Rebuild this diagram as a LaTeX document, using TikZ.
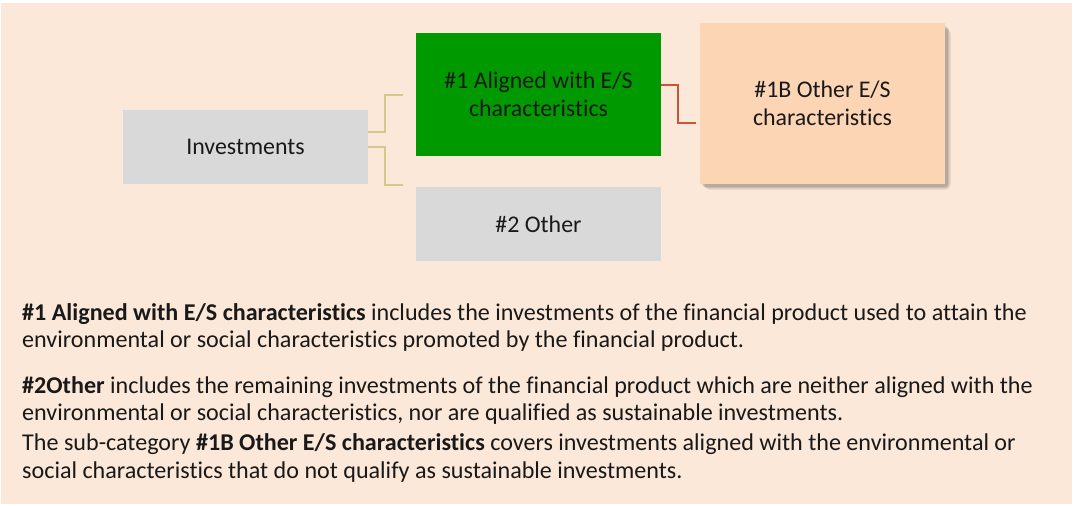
\documentclass[tikz,border=0pt]{standalone}
\usepackage{fontspec}
\setmainfont{Carlito}[Ligatures={NoCommon}]
\usetikzlibrary{calc}
\definecolor{bgc}{HTML}{FBE8D8}
\definecolor{grayc}{HTML}{D9D9D9}
\definecolor{greenc}{HTML}{009A00}
\definecolor{peachc}{HTML}{FCD5B4}
\definecolor{khaki}{HTML}{D5C88A}
\definecolor{redc}{HTML}{C8553A}
\begin{document}
\begin{tikzpicture}[x=1pt,y=-1pt,
  box/.style={minimum width=245pt,inner sep=0pt,align=center,font=\fontsize{23.9}{28}\selectfont,text=black!90},
  link/.style={line width=2pt},
  body/.style={anchor=base west,inner sep=0pt,font=\fontsize{24.1}{29}\selectfont,text=black!90}]
\useasboundingbox[fill=white] (0,0) rectangle (1074,506);
\fill[bgc] (1,3) rectangle (1072,504);
% nodes
\node[box,fill=grayc,minimum height=74pt] (inv) at (245.5,147) {Investments};
\node[box,fill=greenc,minimum height=123pt] (al) at (538.5,94.5) {\#1 Aligned with E/S\\characteristics};
\node[box,fill=grayc,minimum height=74pt] (oth) at (538.5,224) {\#2 Other};
% shadow for 1B
\foreach \d/\o in {6/0.05,5/0.06,4/0.08,3/0.1}{
  \fill[black,opacity=\o,rounded corners=\d pt] (700+\d-1,23+\d) rectangle (945+\d,184+\d);
}
\node[box,fill=peachc,minimum height=161pt] (ob) at (822.5,103.5) {\#1B Other E/S\\characteristics};
% connectors
\coordinate (u) at (403,95);
\coordinate (d) at (403,185);
\coordinate (r) at (696,123);
\draw[link,khaki] ([yshift=15pt]inv.east) -- ++(17,0) |- (u);
\draw[link,khaki] (inv.east) -- ++(17,0) |- (d);
\draw[link,redc] ([yshift=9.5pt]al.east) -- ++(17,0) |- (r);
% text
\node[body] (l1) at (22,320) {\textbf{\#1 Aligned with E/S characteristics} includes the investments of the financial product used to attain the};
\node[body] (l2) at (22,347) {environmental or social characteristics promoted by the financial product.};
\node[body] (l3) at (22,393) {\textbf{\#2Other} includes the remaining investments of the financial product which are neither aligned with the};
\node[body] (l4) at (22,420) {environmental or social characteristics, nor are qualified as sustainable investments.};
\node[body] (l5) at (22,450) {The sub-category \textbf{\#1B Other E/S characteristics} covers investments aligned with the environmental or};
\node[body] (l6) at (22,478) {social characteristics that do not qualify as sustainable investments.};
\end{tikzpicture}
\end{document}
